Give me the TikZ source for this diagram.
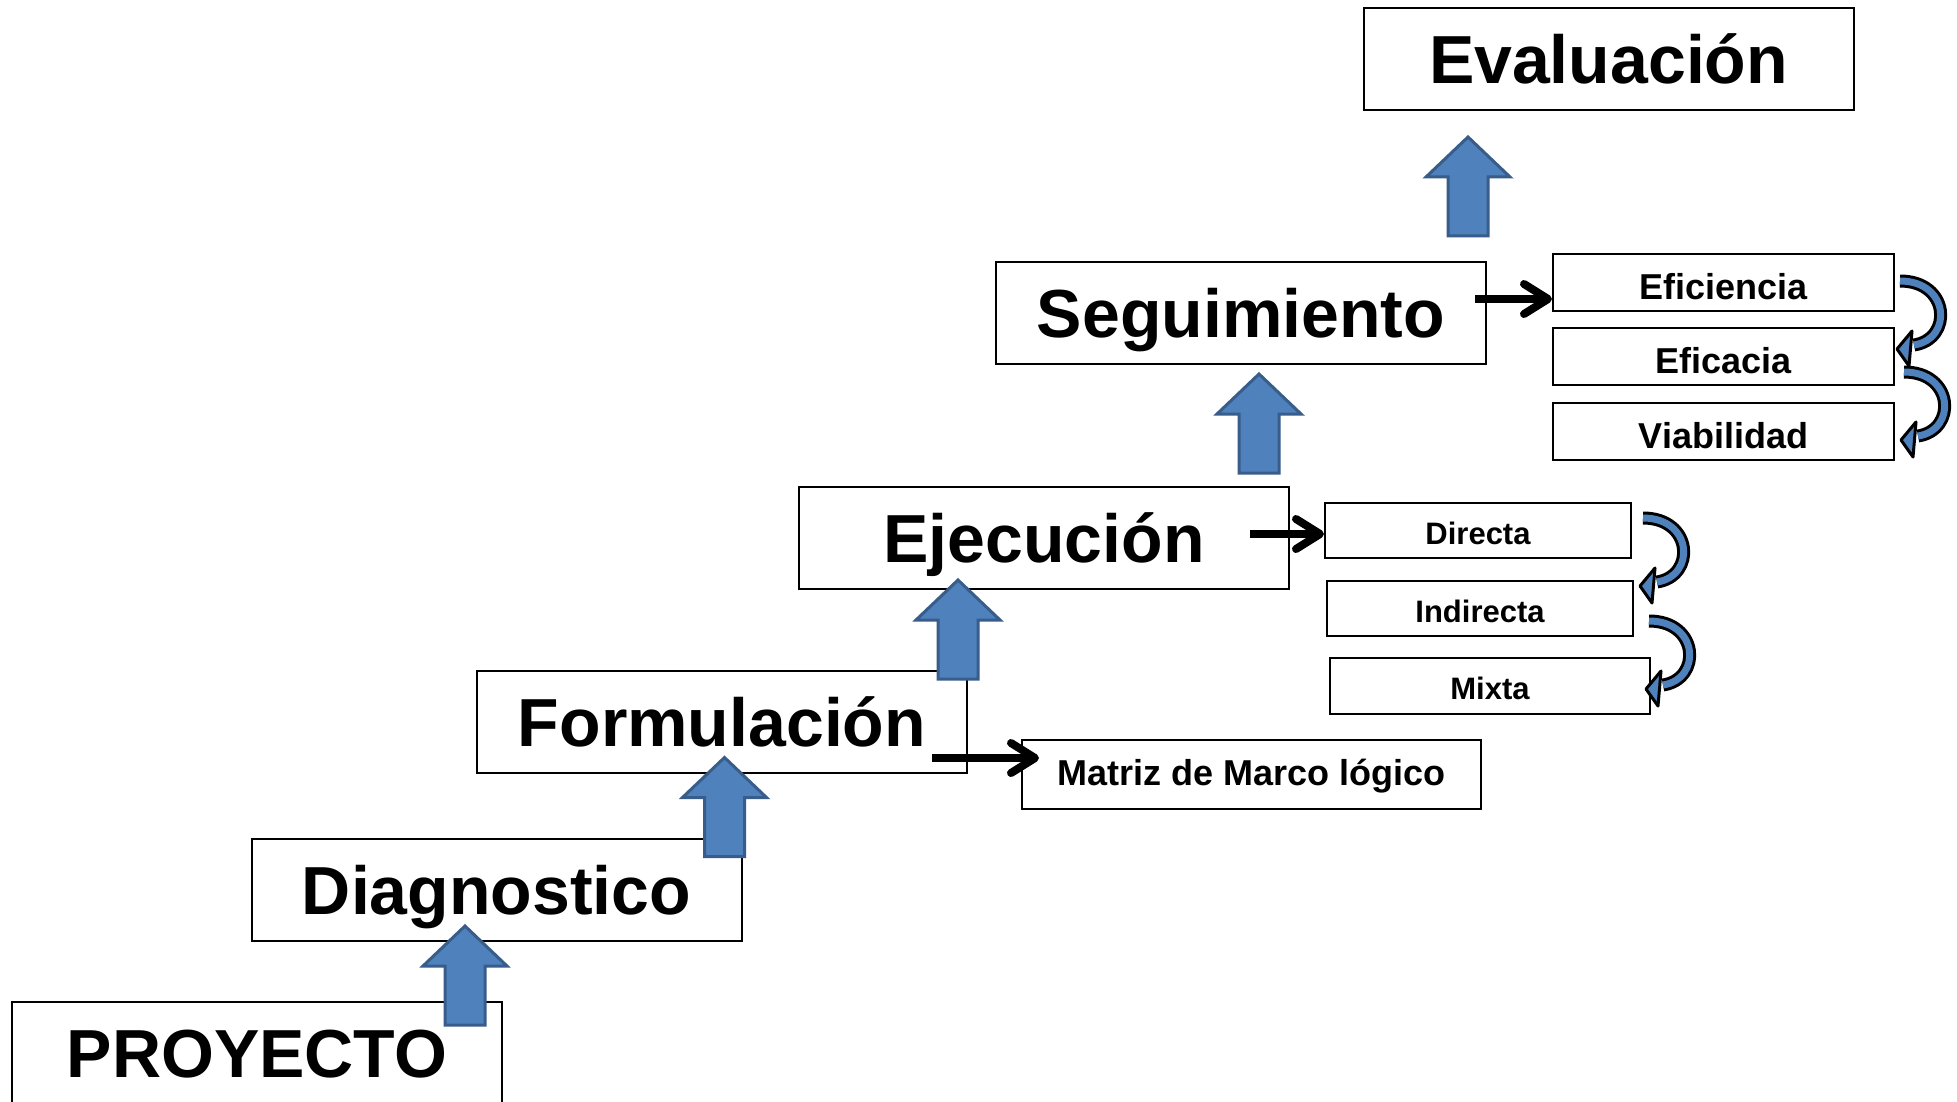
\documentclass[tikz,border=0pt]{standalone}
\usepackage{fontspec}
\setmainfont{Liberation Sans}
\usetikzlibrary{arrows.meta,calc}
\definecolor{cblue}{HTML}{4F81BD}
\definecolor{cbluedark}{HTML}{385D8A}
\newcommand{\bentarrow}[1]{%
  \begin{scope}[shift={#1}]
    \draw[bentband] (0,0) .. controls (50,0) and (53,58) .. (14,64);
    \filldraw[benthead] (-3,68) -- (12,50) -- (9,85) -- cycle;
  \end{scope}}
\newcommand{\blockup}[2]{%
  \filldraw[blockarrow] (#1,#2) -- ++(42,40) -- ++(-22,0) -- ++(0,59) -- ++(-40,0) -- ++(0,-59) -- ++(-22,0) -- cycle;}
\begin{document}
\begin{tikzpicture}[x=1pt,y=-1pt,
  bigbox/.style={draw=black, line width=2pt, fill=white, minimum width=490pt, minimum height=102pt,
    inner sep=0pt, font=\fontsize{68}{80}\selectfont\bfseries, text height=49pt, text depth=0pt},
  midbox/.style={draw=black, line width=2pt, fill=white, inner sep=0pt,
    font=\fontsize{36}{42}\selectfont\bfseries, text height=33pt, text depth=0pt},
  smallbox/.style={draw=black, line width=2pt, fill=white, inner sep=0pt,
    font=\fontsize{31}{36}\selectfont\bfseries, text height=27pt, text depth=0pt},
  blk/.style={draw=black, line width=8pt, -{Straight Barb[length=24pt, width=30pt, round]}},
  bentband/.style={draw=black, line width=3pt, double=cblue, double distance=7pt},
  benthead/.style={fill=cblue, draw=black, line width=3pt, line join=round},
  blockarrow/.style={fill=cblue, draw=cbluedark, line width=3pt, line join=miter}]
\useasboundingbox (0,0) rectangle (1957,1102);
\clip (0,0) rectangle (1957,1102);
\fill[white] (0,0) rectangle (1957,1102);

% main stages
\node[bigbox] (proy) at (257,1053) {PROYECTO};
\node[bigbox] (diag) at (496.5,890) {Diagnostico};
\node[bigbox] (form) at (722,721.5) {Formulación};
\node[bigbox] (ejec) at (1044,537.5) {Ejecución};
\node[bigbox] (segu) at (1241,312.5) {Seguimiento};
\node[bigbox] (eval) at (1608.5,59.5) {Evaluación};

% side boxes
\node[midbox, minimum width=341pt, minimum height=57pt] (efi) at (1723.5,282.5) {Eficiencia};
\node[midbox, minimum width=341pt, minimum height=57pt] (efc) at (1723.5,356.5) {Eficacia};
\node[midbox, minimum width=341pt, minimum height=57pt] (via) at (1723.5,431.5) {Viabilidad};
\node[smallbox, minimum width=306pt, minimum height=55pt] (dir) at (1478,530.5) {Directa};
\node[smallbox, minimum width=306pt, minimum height=55pt] (ind) at (1480,608.5) {Indirecta};
\node[smallbox, minimum width=320pt, minimum height=56pt] (mix) at (1490,686) {Mixta};
\node[midbox, text depth=12pt, minimum width=459pt, minimum height=69pt] (mat) at (1251.5,774.5) {Matriz de Marco lógico};

% block arrows between stages
\blockup{465}{926}
\blockup{724.5}{757.5}
\blockup{958}{580}
\blockup{1259}{374}
\blockup{1468}{137}

% black arrows
\coordinate (segout) at (1475,299);
\draw[blk] (segout) -- (efi.west |- segout);
\coordinate (ejeout) at (1250,534);
\draw[blk] (ejeout) -- (dir.west |- ejeout);
\coordinate (forout) at (932,758);
\draw[blk] (forout) -- ($(mat.west |- forout)+(18,0)$);

% curved arrows
\bentarrow{($(efi.east)+(5,-1.5)$)}
\bentarrow{($(efc.east)+(9,15.5)$)}
\bentarrow{($(dir.east)+(11,-12.5)$)}
\bentarrow{($(ind.east)+(15,12.5)$)}
\end{tikzpicture}
\end{document}
